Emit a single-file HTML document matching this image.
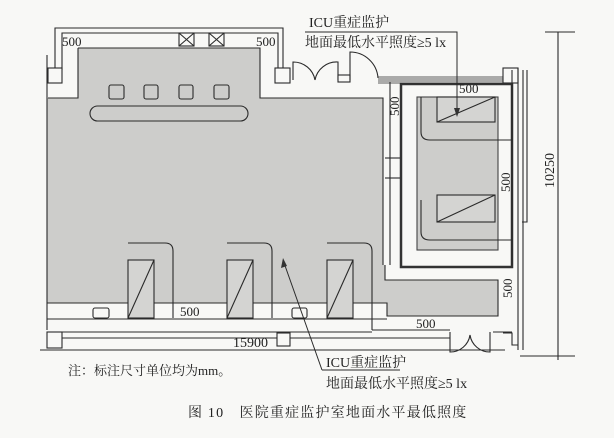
<!DOCTYPE html>
<html><head><meta charset="utf-8"><style>
html,body{margin:0;padding:0;background:#f8f8f6;}
svg{display:block;}
text{font-family:"Liberation Serif","Noto Serif CJK SC",serif;fill:#222;}
</style></head><body>
<svg width="614" height="438" viewBox="0 0 614 438" xmlns="http://www.w3.org/2000/svg">
<rect width="614" height="438" fill="#f8f8f6"/>
<g stroke="#2a2a2a" stroke-width="1.1" fill="none">
<path d="M78,48 H260 V98 H383 V265 H385 V280 H498 V316 H387 V303 H47 V98 H78 Z" fill="#cdcdcb" stroke="none"/>
<path d="M78,48 H260 V98 H383 V265" />
<path d="M47,303 H387 V316 H498 V280 H385 V265"/>
<path d="M78,48 V98 H48"/>
<rect x="401" y="84" width="111" height="183" fill="none" stroke="#333" stroke-width="2.5"/>
<rect x="417" y="97" width="81" height="153" fill="#cdcdcb" stroke="#444"/>
<path d="M421,97 V132 Q421,140 430,140 H512"/>
<path d="M421,200 V232 Q421,240 430,240 H512"/>
<rect x="437" y="97" width="58" height="25" fill="#d4d4d2"/>
<line x1="437" y1="122" x2="495" y2="97"/>
<rect x="437" y="195" width="58" height="27" fill="#d4d4d2"/>
<line x1="437" y1="222" x2="495" y2="195"/>
<line x1="390" y1="82" x2="390" y2="265"/>
<line x1="385" y1="158" x2="400" y2="158"/>
<line x1="385" y1="178" x2="400" y2="178"/>
<path d="M55,68 V28 H283 V68"/>
<path d="M62,70 V33 H278 V68"/>
<rect x="48" y="68" width="14" height="15" fill="#f8f8f6"/>
<rect x="275" y="68" width="15" height="15" fill="#f8f8f6"/>
<line x1="47" y1="55" x2="47" y2="330"/>
<rect x="179" y="33" width="15" height="13"/><path d="M179,33 L194,46 M194,33 L179,46"/>
<rect x="209" y="33" width="15" height="13"/><path d="M209,33 L224,46 M224,33 L209,46"/>
<g fill="#cdcdcb"><rect x="109" y="85" width="15" height="14" rx="2"/><rect x="144" y="85" width="14" height="14" rx="2"/><rect x="179" y="85" width="14" height="14" rx="2"/><rect x="214" y="85" width="15" height="14" rx="2"/></g>
<rect x="90" y="106" width="158" height="15" rx="7.5" fill="#cdcdcb"/>
<path d="M293,80 V62 A22,22 0 0 1 315,80"/>
<path d="M315,80 A22,22 0 0 1 338,62 V80"/>
<rect x="338" y="75" width="12" height="7" fill="#f8f8f6"/>
<path d="M350,80 V52 A28,28 0 0 1 378,78"/>
<path d="M378,77 H503 M378,79 H503 M378,81 H503 M378,83 H503" stroke-width="0.8"/>
<rect x="503" y="68" width="15" height="15" fill="#f8f8f6"/>
<path d="M512,70 V265 M518,68 V350 M523,70 V350 M527,70 V222 H522"/>
<g fill="#d4d4d2">
<rect x="128" y="260" width="26" height="58"/><rect x="227" y="260" width="26" height="58"/><rect x="327" y="260" width="26" height="58"/></g>
<path d="M128,318 L154,260 M227,318 L253,260 M327,318 L353,260"/>
<path d="M128,243 H165 Q173,243 173,251 V318"/>
<path d="M227,243 H264 Q272,243 272,251 V318"/>
<path d="M327,243 H364 Q372,243 372,251 V330"/>
<rect x="93" y="308" width="16" height="10" rx="2"/><rect x="292" y="308" width="15" height="10" rx="2"/>
<path d="M47,319 H387 M47,332 H372 M372,330 H450 M62,338 H450 M47,350 H450 M493,332 H512"/>
<rect x="47" y="332" width="15" height="16" fill="#f8f8f6"/>
<rect x="277" y="333" width="13" height="13" fill="#f8f8f6"/>
<path d="M450,332 V352 A20,20 0 0 0 470,335 A20,20 0 0 0 490,352 V332"/>
<path d="M503,333 H512 V345 H518"/>
<path d="M545,32 H575 M558,32 V360 M520,356 H575"/>
<path d="M40,350 H505"/>
</g>
<g font-size="13">
<text x="62" y="46" font-size="13">500</text>
<text x="256" y="46" font-size="13">500</text>
<text x="459" y="93" font-size="13">500</text>
<text x="180" y="316" font-size="13">500</text>
<text x="416" y="328" font-size="13">500</text>
<text x="233" y="347" font-size="14">15900</text>
<text font-size="13" transform="translate(399,116) rotate(-90)">500</text>
<text font-size="13" transform="translate(510,192) rotate(-90)">500</text>
<text font-size="13" transform="translate(512,298) rotate(-90)">500</text>
<text font-size="14" transform="translate(554,188) rotate(-90)">10250</text>
</g>
<g stroke="#2a2a2a" fill="none">
<path d="M305,32 H457 V115"/>
<path d="M322,370 L283,260 M322,370 H400" />
</g>
<path d="M457,117 L454,108 L460,108 Z" fill="#333"/>
<path d="M283,258 L281,268 L287,266 Z" fill="#333"/>
<text x="309" y="27" font-size="14">ICU重症监护</text>
<text x="305" y="47" font-size="14">地面最低水平照度≥5 lx</text>
<text x="326" y="367" font-size="14">ICU重症监护</text>
<text x="326" y="388" font-size="14">地面最低水平照度≥5 lx</text>
<text x="68" y="375" font-size="13">注：标注尺寸单位均为mm。</text>
<text x="188" y="417" font-size="14" letter-spacing="1.2">图 10　医院重症监护室地面水平最低照度</text>
</svg>
</body></html>
